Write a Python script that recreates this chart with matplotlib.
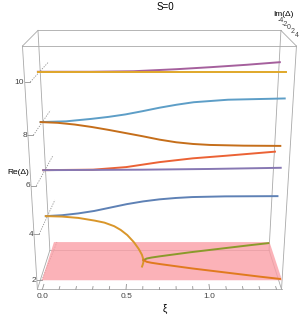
import matplotlib
matplotlib.use('Agg')
import matplotlib.pyplot as plt
import numpy as np
from mpl_toolkits.mplot3d.art3d import Poly3DCollection

plt.rcParams['font.family'] = ['Liberation Sans', 'DejaVu Sans']

# Re(Δ)-Äste bei Im(Δ)=0
xi_10a = [0.0, 0.5, 1.0, 1.43]
re_10a = [10.0, 10.0, 10.0, 10.0]
xi_10b = [0.0, 0.3, 0.55, 0.8, 1.0, 1.2, 1.39]
re_10b = [10.0, 10.0, 10.02, 10.1, 10.18, 10.27, 10.37]
xi_8a = [0.0, 0.15, 0.3, 0.4, 0.5, 0.6, 0.7, 0.8, 0.9, 1.1, 1.43]
re_8a = [8.0, 8.03, 8.13, 8.21, 8.31, 8.44, 8.58, 8.7, 8.8, 8.9, 8.95]
xi_8b = [0.0, 0.1, 0.2, 0.3, 0.4, 0.5, 0.6, 0.7, 0.8, 0.9, 1.0, 1.2, 1.42]
re_8b = [8.0, 7.97, 7.9, 7.8, 7.68, 7.55, 7.42, 7.28, 7.17, 7.1, 7.06, 7.03, 7.02]
xi_6a = [0.0, 0.3, 0.5, 0.7, 0.9, 1.1, 1.39]
re_6a = [6.0, 6.02, 6.13, 6.34, 6.5, 6.61, 6.78]
xi_6b = [0.0, 0.6, 1.0, 1.43]
re_6b = [6.0, 6.02, 6.05, 6.1]
xi_4a = [0.0, 0.1, 0.2, 0.3, 0.4, 0.5, 0.6, 0.7, 0.8, 0.9, 1.1, 1.42]
re_4a = [4.0, 4.04, 4.12, 4.23, 4.38, 4.53, 4.65, 4.74, 4.8, 4.84, 4.87, 4.88]
xi_4b = [0.0, 0.1, 0.2, 0.3, 0.36, 0.42, 0.46, 0.5, 0.54, 0.57, 0.59, 0.6]
re_4b = [4.0, 3.98, 3.92, 3.8, 3.71, 3.55, 3.38, 3.15, 2.83, 2.52, 2.25, 2.0]
# Schattenast unterhalb Re=2
xi_sh = [0.6, 0.598, 0.594, 0.59]
re_sh = [2.0, 1.88, 1.78, 1.7]
# komplexes Paar auf Re=2
xi_c = [0.6, 0.62, 0.65, 0.7, 0.8, 0.9, 1.0, 1.1, 1.2, 1.3, 1.42]
nu_c = [0.0, 0.35, 0.55, 0.8, 1.25, 1.7, 2.1, 2.5, 2.9, 3.3, 3.75]

xi_ticks = [0.0, 0.5, 1.0]
re_ticks = [2, 4, 6, 8, 10]
im_ticks = [-4, -2, 0, 2, 4]

x0, x1 = -0.03, 1.43
y0, y1 = -4, 4
z0, z1 = 1.6, 11.3

fig = plt.figure(figsize=(3.0, 3.17), dpi=100)
ax = fig.add_axes([0.018, -0.016, 1, 1], projection='3d', computed_zorder=False)
ax.set_axis_off()
ax.set_xlim(x0, x1)
ax.set_ylim(y1, y0)
ax.set_zlim(z0, z1)
ax.set_box_aspect((1.0, 0.36, 1.0), zoom=1.15)
ax.set_proj_type('persp', focal_length=0.45)
ax.view_init(elev=19, azim=-90)

# Box
edge = dict(color='#a8a8a8', lw=0.6, zorder=0)
for y in (y0, y1):
    for z in (z0, z1):
        ax.plot([x0, x1], [y, y], [z, z], **edge)
for x in (x0, x1):
    for z in (z0, z1):
        ax.plot([x, x], [y0, y1], [z, z], **edge)
    for y in (y0, y1):
        ax.plot([x, x], [y, y], [z0, z1], **edge)

# Ebene Re(Δ)=2
plane = Poly3DCollection([[(0, y0, 2), (x1, y0, 2), (x1, y1, 2), (0, y1, 2)]],
                         facecolor='#fa9fa6', edgecolor='none', alpha=0.8, zorder=1)
ax.add_collection3d(plane)

lw = 1.4
zeros = lambda a: np.zeros(len(a))
ax.plot(xi_10b, zeros(xi_10b), re_10b, color='#a5609d', lw=lw, zorder=3)
ax.plot(xi_10a, zeros(xi_10a), re_10a, color='#e0a82a', lw=lw, zorder=3)
ax.plot(xi_8a, zeros(xi_8a), re_8a, color='#5d9ec7', lw=lw, zorder=3)
ax.plot(xi_8b, zeros(xi_8b), re_8b, color='#c56e1a', lw=lw, zorder=3)
ax.plot(xi_6a, zeros(xi_6a), re_6a, color='#eb6235', lw=lw, zorder=3)
ax.plot(xi_6b, zeros(xi_6b), re_6b, color='#8778b3', lw=lw, zorder=3)
ax.plot(xi_4a, zeros(xi_4a), re_4a, color='#5e81b5', lw=lw, zorder=3)
ax.plot(xi_4b, zeros(xi_4b), re_4b, color='#d9962a', lw=lw, zorder=3)
ax.plot(xi_sh, zeros(xi_sh), re_sh, color='#d9962a', lw=lw, zorder=3)
ax.plot(xi_c, -np.array(nu_c), np.full(len(xi_c), 2.0), color='#8a9a2a', lw=lw, zorder=3)
ax.plot(xi_c, np.array(nu_c), np.full(len(xi_c), 2.0), color='#e07a1e', lw=lw, zorder=3)

tick = dict(color='#909090', lw=0.6, zorder=0)
# xi-Ticks
for t in np.arange(0, 1.41, 0.1):
    major = any(abs(t - m) < 1e-6 for m in xi_ticks)
    ax.plot([t, t], [y1, y1 - (0.9 if major else 0.5)], [z0, z0], **tick)
for t in xi_ticks:
    ax.text(t, y1, z0 - 0.15, f'{t:.1f}', fontsize=6, color='#444444', ha='center', va='top')
# Re-Ticks
for t in re_ticks:
    ax.plot([x0, x0 + 0.03], [y1, y1], [t, t], **tick)
    ax.plot([x0 + 0.03, x0 + 0.05], [y1, y0], [t, t], color='#909090', lw=0.6,
            ls=(0, (1.5, 1.5)), zorder=0)
    ax.text(x0 - 0.005, y1, t, str(t), fontsize=6, color='#444444', ha='right', va='center')
# Im-Ticks
for t in im_ticks:
    ax.text(x1, t, z1 + 0.25, str(t), fontsize=5, color='#444444', ha='center', va='bottom')

fig.text(0.55, 0.995, 'S=0', fontsize=7, ha='center', va='top')
fig.text(0.06, 0.457, 'Re(Δ)', fontsize=6, ha='center', va='center')
fig.text(0.945, 0.955, 'Im(Δ)', fontsize=6, ha='center', va='center')
fig.text(0.55, 0.01, 'ξ', fontsize=7, ha='center', va='bottom')

fig.savefig('out.png', dpi=100)
